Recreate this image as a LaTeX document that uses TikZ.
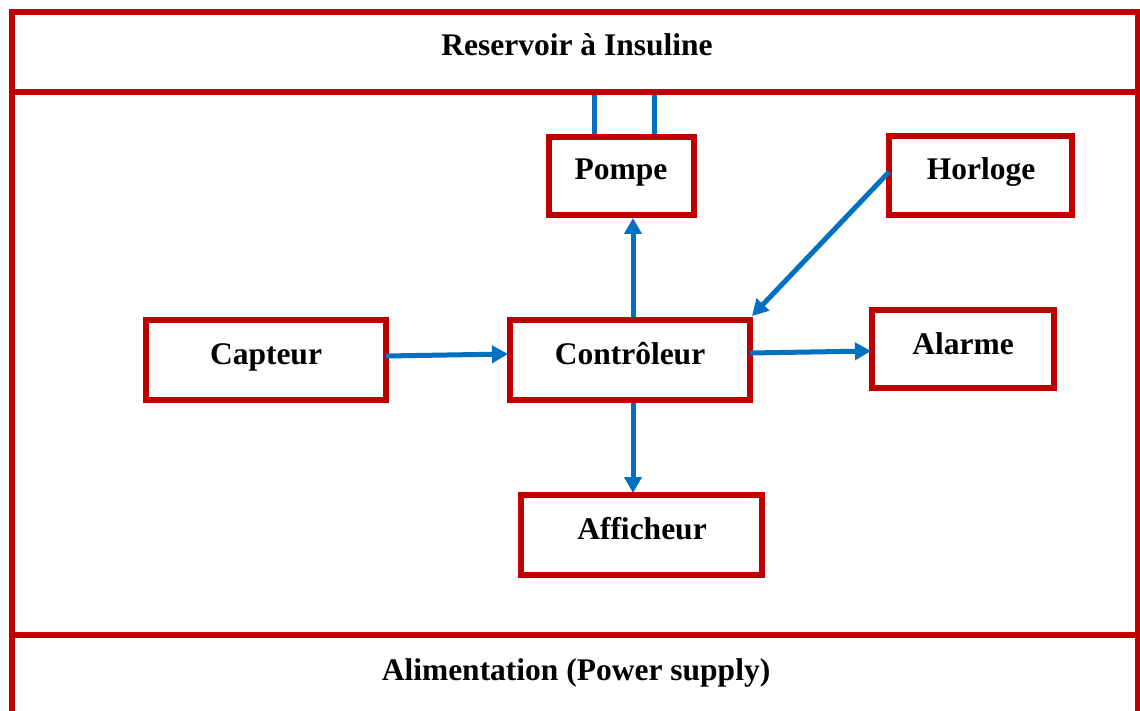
\documentclass[tikz,border=0pt]{standalone}
\usepackage{fontspec}
\setmainfont{Liberation Serif}
\usetikzlibrary{arrows.meta}
\definecolor{boxred}{HTML}{C00000}
\definecolor{arrblue}{HTML}{0070C0}
\tikzset{
  blockbox/.style={draw=boxred, line width=6pt, fill=white},
  lbl/.style={font=\fontsize{31.5}{36}\selectfont\bfseries, inner sep=0pt, anchor=base},
  flow/.style={draw=arrblue, line width=5pt, -{Triangle[width=17pt,length=16pt]}},
  link/.style={draw=arrblue, line width=5pt}
}
\begin{document}
\begin{tikzpicture}[x=1pt,y=-1pt]
\useasboundingbox (0,0) rectangle (1140,711);
\clip (0,0) rectangle (1140,711);
% frame
\draw[draw=boxred, line width=6pt] (12,720) -- (12,12) -- (1138,12) -- (1138,720);
\draw[draw=boxred, line width=6pt] (12,92) -- (1138,92);
\draw[draw=boxred, line width=6pt] (12,635) -- (1138,635);
\node[lbl] (res) at (577,56) {Reservoir à Insuline};
\node[lbl] (alim) at (576,680) {Alimentation (Power supply)};
% boxes
\draw[blockbox] (549,137) rectangle (694,215);
\coordinate (pompeS) at (633,218);
\node[lbl] (pompe) at (621,180) {Pompe};
\draw[blockbox] (889,136) rectangle (1072,215);
\node[lbl] (horloge) at (981,180) {Horloge};
\coordinate (horlogeW) at (889,172);
\draw[blockbox] (146,320) rectangle (386,400);
\node[lbl] (capteur) at (266,364) {Capteur};
\coordinate (capteurE) at (386,356);
\draw[blockbox] (510,320) rectangle (750,400);
\node[lbl] (ctrl) at (630,364) {Contrôleur};
\coordinate (ctrlW) at (508,354);
\coordinate (ctrlE) at (750,353);
\coordinate (ctrlN) at (633,317);
\coordinate (ctrlS) at (633,403);
\coordinate (ctrlNE) at (752,316);
\draw[blockbox] (872,310) rectangle (1054,388);
\node[lbl] (alarme) at (963,354) {Alarme};
\coordinate (alarmeW) at (871,351);
\draw[blockbox] (521,495) rectangle (762,575);
\node[lbl] (aff) at (642,539) {Afficheur};
\coordinate (affN) at (633,493);
% links reservoir - pompe
\coordinate (r1) at (594,95); \coordinate (p1) at (594,134);
\coordinate (r2) at (654,95); \coordinate (p2) at (654,134);
\draw[link] (r1) -- (p1);
\draw[link] (r2) -- (p2);
% arrows
\draw[flow] (capteurE) -- (ctrlW);
\draw[flow] (ctrlE) -- (alarmeW);
\draw[flow] (ctrlN) -- (pompeS);
\draw[flow] (ctrlS) -- (affN);
\draw[flow] (horlogeW) -- (ctrlNE);
\end{tikzpicture}
\end{document}
